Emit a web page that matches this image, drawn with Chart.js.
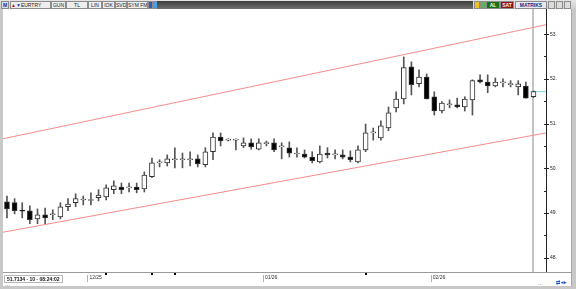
<!DOCTYPE html>
<html><head><meta charset="utf-8">
<script src="https://cdn.jsdelivr.net/npm/chart.js@4/dist/chart.umd.min.js"></script>
<style>
html,body{margin:0;padding:0;width:576px;height:289px;overflow:hidden;background:#c8c8c8;font-family:"Liberation Sans",Arial,sans-serif;}
#wrap{position:relative;width:576px;height:289px;}
canvas{position:absolute;left:0;top:0;}
#tb{position:absolute;left:0;top:0;width:576px;height:9px;background:linear-gradient(#e4e4e4,#cdcdcd);}
.bx{position:absolute;top:1px;height:6px;border:1px solid #8c8c8c;background:#eeeeee;font-size:5px;line-height:6px;color:#222;text-align:center;box-sizing:content-box;white-space:nowrap;overflow:hidden;}
#dark{position:absolute;left:157px;top:1px;width:316px;height:8px;background:linear-gradient(#3e3e3e,#6e6e6e);}
#status{position:absolute;left:4px;top:275px;font-size:5px;font-weight:bold;color:#111;white-space:nowrap;border:1px solid #b8b8b8;padding:0 2px;line-height:6px;}
.ico{position:absolute;font-size:5px;line-height:5px;color:#333;}
</style></head>
<body><div id="wrap">
<canvas id="c" width="576" height="289"></canvas>
<div id="tb">
  <div class="bx" style="left:1px;width:6px;background:#d8e0f0;color:#1a2a8a;font-weight:bold;">M</div>
  <div class="bx" style="left:10px;width:39px;text-align:left;"><span style="color:#c0202a;font-weight:bold;">&#9650;</span><span style="color:#2040b0;">&#9660;</span>EURTRY</div>
  <div class="bx" style="left:51px;width:13px;">GUN</div>
  <div class="bx" style="left:66px;width:20px;">TL</div>
  <div class="bx" style="left:88px;width:12px;">LIN</div>
  <div class="bx" style="left:102px;width:11px;">IOK</div>
  <div class="bx" style="left:115px;width:10px;">SVD</div>
  <div class="bx" style="left:127px;width:19px;">SYM FMP</div>
  <div class="bx" style="left:148px;width:3px;background:#3a5ab0;"></div>
  <div class="bx" style="left:153px;width:3px;background:#4aa0e0;"></div>
  <div id="dark"></div>
  <div class="bx" style="left:474px;width:4px;background:#f0c020;"></div>
  <div class="bx" style="left:480px;width:4px;background:#60b060;"></div>
  <div class="bx" style="left:486px;width:12px;background:#17701a;color:#e8ffe8;font-weight:bold;">AL</div>
  <div class="bx" style="left:500px;width:12px;background:#8c1616;color:#ffe8e8;font-weight:bold;">SAT</div>
  <div class="bx" style="left:515px;width:30px;background:#e8e8f0;color:#1a2a7a;font-weight:bold;">MATRIKS</div>
  <div class="bx" style="left:548px;width:5px;background:#dcdcdc;"></div>
  <div class="bx" style="left:556px;width:5px;background:#dcdcdc;"></div>
  <div class="bx" style="left:564px;width:5px;background:#dcdcdc;"></div>
</div>
<div id="status">51.7134 - 10 - 08:24:02</div>
<div class="ico" style="left:5px;top:282px;">&#8230;</div>
<div class="ico" style="left:538px;top:281px;">&#8230;</div>
<div class="ico" style="left:556px;top:280px;color:#2050c0;font-weight:bold;">&#8644; &#9666;&#9656;</div>
</div>
<script>
// ---- data ----
const dates = ['2025-11-14','2025-11-17','2025-11-18','2025-11-19','2025-11-20','2025-11-21','2025-11-24','2025-11-25','2025-11-26','2025-11-27','2025-11-28',
'2025-12-01','2025-12-02','2025-12-03','2025-12-04','2025-12-05','2025-12-08','2025-12-09','2025-12-10','2025-12-11','2025-12-12','2025-12-15','2025-12-16','2025-12-17','2025-12-18','2025-12-19','2025-12-22','2025-12-23','2025-12-24','2025-12-25','2025-12-26','2025-12-29','2025-12-30','2025-12-31',
'2026-01-01','2026-01-02','2026-01-05','2026-01-06','2026-01-07','2026-01-08','2026-01-09','2026-01-12','2026-01-13','2026-01-14','2026-01-15','2026-01-16','2026-01-19','2026-01-20','2026-01-21','2026-01-22','2026-01-23','2026-01-26','2026-01-27','2026-01-28','2026-01-29','2026-01-30',
'2026-02-02','2026-02-03','2026-02-04','2026-02-05','2026-02-06','2026-02-09','2026-02-10','2026-02-11','2026-02-12','2026-02-13','2026-02-16','2026-02-17','2026-02-18','2026-02-19'];
const opens  = [49.25,49.23,49.06,49.05,48.87,48.96,48.96,48.91,49.14,49.23,49.29,49.28,49.34,49.36,49.52,49.58,49.56,49.58,49.54,49.81,50.12,50.12,50.19,50.19,50.19,50.21,50.08,50.37,50.70,50.63,50.63,50.50,50.57,50.43,50.55,50.57,50.48,50.46,50.32,50.32,50.25,50.14,50.34,50.30,50.30,50.25,50.14,50.41,50.79,50.68,50.90,51.35,51.55,52.27,51.89,52.04,51.60,51.28,51.42,51.42,51.37,51.53,51.98,51.93,51.84,51.91,51.87,51.82,51.84,51.60];
const highs  = [49.38,49.32,49.23,49.16,49.09,49.11,49.07,49.23,49.32,49.43,49.38,49.45,49.52,49.63,49.72,49.67,49.67,49.67,49.92,50.23,50.19,50.30,50.46,50.34,50.37,50.30,50.46,50.79,50.79,50.66,50.66,50.68,50.66,50.66,50.61,50.66,50.57,50.59,50.46,50.41,50.37,50.50,50.46,50.41,50.41,50.39,50.50,50.99,50.90,51.06,51.37,51.71,52.49,52.38,52.20,52.11,51.71,51.49,51.53,51.57,51.60,51.98,52.09,52.09,52.02,52.00,51.96,51.96,51.93,51.73];
const lows   = [48.89,48.98,48.89,48.76,48.76,48.76,48.85,48.87,49.05,49.14,49.18,49.18,49.27,49.29,49.43,49.43,49.47,49.45,49.47,49.79,50.03,50.05,50.01,50.01,50.05,50.03,50.03,50.19,50.50,50.61,50.41,50.46,50.43,50.41,50.50,50.37,50.21,50.25,50.25,50.23,50.12,50.12,50.23,50.21,50.21,50.14,50.12,50.37,50.63,50.63,50.84,51.26,51.44,51.64,51.82,51.55,51.19,51.24,51.35,51.35,51.28,51.19,51.91,51.69,51.82,51.82,51.82,51.64,51.57,51.58];
const closes = [49.09,49.05,49.04,48.85,48.96,48.89,48.96,49.14,49.20,49.32,49.29,49.30,49.40,49.56,49.61,49.52,49.56,49.52,49.85,50.12,50.12,50.21,50.19,50.19,50.19,50.10,50.37,50.70,50.61,50.63,50.63,50.57,50.48,50.57,50.55,50.41,50.48,50.34,50.32,50.25,50.17,50.32,50.30,50.30,50.25,50.19,50.41,50.79,50.79,50.95,51.24,51.55,52.25,51.87,52.04,51.55,51.28,51.46,51.42,51.37,51.55,51.96,51.93,51.84,51.93,51.91,51.87,51.89,51.57,51.7134];
const lastPrice = 51.7134;
const channelX = [-0.52, 70.64];
const upperChannel = [50.66, 53.21];
const lowerChannel = [48.57, 50.79];
const yTickValues = [48, 49, 50, 51, 52, 53];
const yTickLabels = ['48.', '49.', '50.', '51.', '52.', '53.'];
const yMinorTicks = [48.5, 49.5, 50.5, 51.5, 52.5];
const monthTickIdx = [10.8, 33.8, 55.8];
const monthLabels = ['12/25', '01/26', '02/26'];
const eventIdx = [13, 19, 22, 47];

const idx = dates.map((d, i) => i);
const lastIdx = idx[idx.length - 1];

const decor = {
  id: 'decor',
  beforeDraw(chart) {
    const ctx = chart.ctx;
    ctx.save();
    ctx.fillStyle = '#c8c8c8'; ctx.fillRect(0, 0, 576, 289);
    ctx.fillStyle = '#ffffff'; ctx.fillRect(3, 9, 568, 277);
    ctx.restore();
  },
  beforeDatasetsDraw(chart) {
    const ctx = chart.ctx, a = chart.chartArea, xs = chart.scales.x;
    const px = Math.round(xs.getPixelForValue(lastIdx));
    ctx.save();
    ctx.fillStyle = '#c4c4c4';
    ctx.fillRect(px - 1, a.top - 1, 2, a.bottom - a.top + 1);
    ctx.restore();
  },
  afterDraw(chart) {
    const ctx = chart.ctx, a = chart.chartArea, xs = chart.scales.x, ys = chart.scales.y;
    ctx.save();
    ctx.strokeStyle = '#222'; ctx.lineWidth = 1;
    ctx.beginPath();
    ctx.moveTo(Math.round(a.right) + 0.5, a.top - 1); ctx.lineTo(Math.round(a.right) + 0.5, a.bottom + 1);
    ctx.stroke();
    ctx.beginPath();
    yTickValues.forEach(v => { const y = Math.round(ys.getPixelForValue(v)) + 0.5; ctx.moveTo(a.right - 2, y); ctx.lineTo(a.right + 3, y); });
    yMinorTicks.forEach(v => { const y = Math.round(ys.getPixelForValue(v)) + 0.5; ctx.moveTo(a.right - 2, y); ctx.lineTo(a.right + 1, y); });
    ctx.stroke();
    ctx.strokeStyle = '#9a9a9a';
    ctx.beginPath(); ctx.moveTo(3, Math.round(a.bottom) + 0.5); ctx.lineTo(571, Math.round(a.bottom) + 0.5); ctx.stroke();
    ctx.strokeStyle = '#a8a8a8';
    ctx.beginPath(); ctx.moveTo(571.5, 9); ctx.lineTo(571.5, 286); ctx.stroke();
    ctx.strokeStyle = '#b0b0b0';
    ctx.beginPath();
    monthTickIdx.forEach(v => { const x = Math.round(xs.getPixelForValue(v)) - 1.5; ctx.moveTo(x, a.bottom + 3); ctx.lineTo(x, a.bottom + 10); });
    ctx.stroke();
    ctx.fillStyle = '#000';
    eventIdx.forEach(v => { const x = Math.round(xs.getPixelForValue(v)); ctx.fillRect(x - 1, a.bottom + 1, 2, 2); });
    ctx.restore();
  }
};

new Chart(document.getElementById('c'), {
  type: 'bar',
  data: {
    datasets: [
      { type: 'line', data: channelX.map((x, i) => ({ x, y: upperChannel[i] })), borderColor: '#f58c8c', borderWidth: 1, pointRadius: 0, order: 0 },
      { type: 'line', data: channelX.map((x, i) => ({ x, y: lowerChannel[i] })), borderColor: '#f58c8c', borderWidth: 1, pointRadius: 0, order: 0 },
      { type: 'line', data: [{ x: lastIdx, y: lastPrice }, { x: channelX[1], y: lastPrice }], borderColor: '#78d8ea', borderWidth: 1, pointRadius: 0, order: 3 },
      { label: 'body', data: idx.map(i => ({ x: i, y: [opens[i], closes[i]] })),
        backgroundColor: idx.map(i => closes[i] >= opens[i] ? '#ffffff' : '#000000'),
        borderColor: '#333333', borderWidth: 1, borderSkipped: false, barThickness: 5, minBarLength: 1, grouped: false, order: 1 },
      { label: 'wick', data: idx.map(i => ({ x: i, y: [lows[i], highs[i]] })),
        backgroundColor: '#555555', borderWidth: 0, barThickness: 1, grouped: false, order: 2 }
    ]
  },
  options: {
    responsive: false, animation: false, devicePixelRatio: 1,
    layout: { padding: { left: 3, top: 10, right: 0, bottom: 5 } },
    plugins: { legend: { display: false }, tooltip: { enabled: false } },
    scales: {
      x: { type: 'linear', min: channelX[0], max: channelX[1], offset: false,
        grid: { display: false, drawTicks: false }, border: { display: false },
        afterBuildTicks: s => { s.ticks = monthTickIdx.map(v => ({ value: v })); },
        afterFit: s => { s.height = 12; },
        ticks: { align: 'start', padding: 3, maxRotation: 0, autoSkip: false, color: '#333', font: { size: 5, family: 'Liberation Sans' },
          callback: (v, i) => monthLabels[i] } },
      y: { position: 'right', min: 47.68, max: 53.54,
        grid: { display: false, drawTicks: false }, border: { display: false },
        afterBuildTicks: s => { s.ticks = yTickValues.map(v => ({ value: v })); },
        afterFit: s => { s.width = 30; },
        ticks: { padding: 4, color: '#222', font: { size: 5, family: 'Liberation Sans' }, callback: (v, i) => yTickLabels[i] } }
    }
  },
  plugins: [decor]
});
</script>
</body></html>
